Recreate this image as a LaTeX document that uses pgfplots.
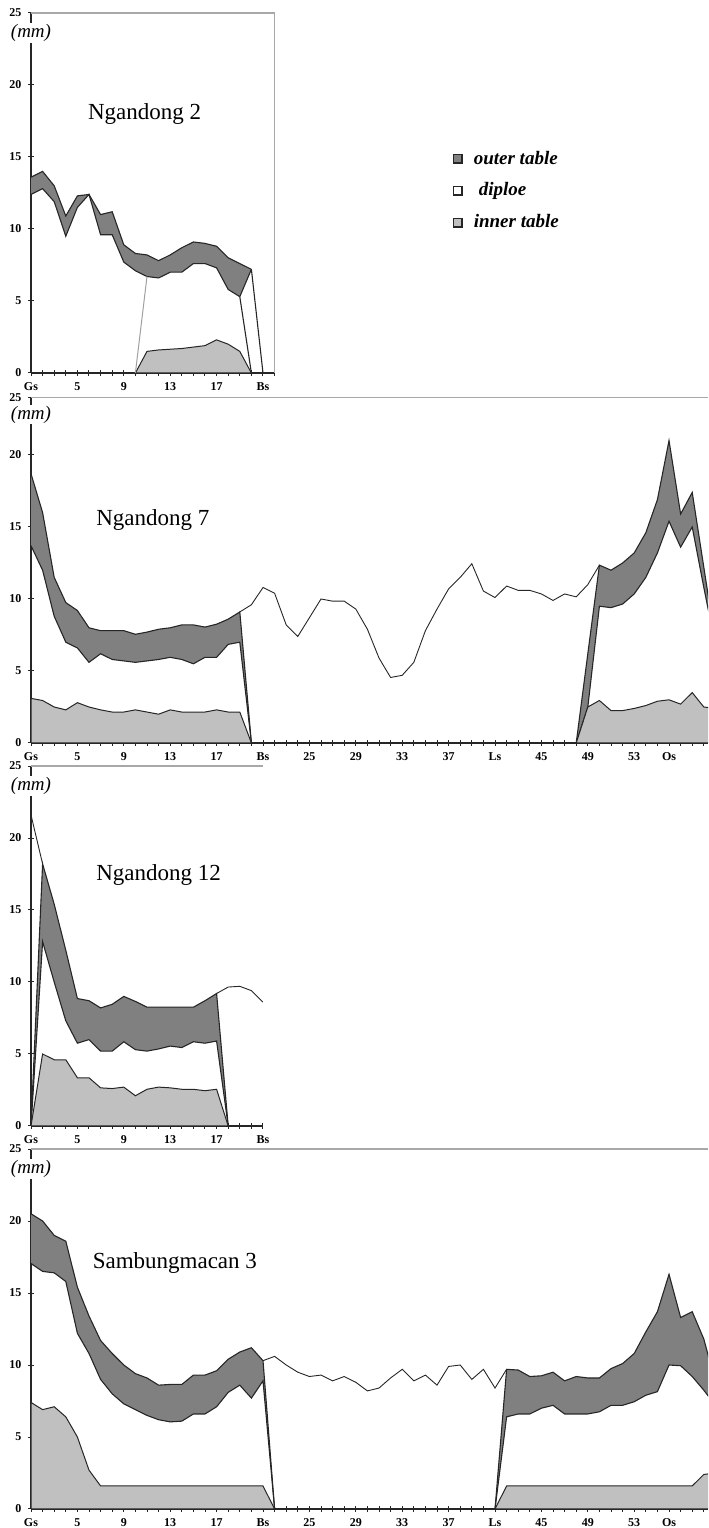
\documentclass[border=0pt]{standalone}
\usepackage{fontspec}
\setmainfont{Liberation Serif}
\usepackage{pgfplots}
\pgfplotsset{compat=1.18}
\usepgfplotslibrary{fillbetween}
\definecolor{outerc}{HTML}{808080}
\definecolor{innerc}{HTML}{C0C0C0}
\definecolor{linec}{HTML}{262626}
\definecolor{framec}{HTML}{A8A8A8}
\definecolor{ltline}{HTML}{A0A0A0}
\pgfplotsset{
  panel/.style={
    anchor=south west, scale only axis, set layers,
    xmin=1, ymin=0, ymax=25,
    axis x line*=bottom, axis y line*=left,
    axis line style={linec, line width=0.6pt},
    ytick={0,5,10,15,20,25},
    minor xtick={1,...,60},
    tick align=center, major tick length=2.6pt, minor tick length=2.6pt,
    tick style={linec, line width=0.5pt},
    tick label style={font=\bfseries\fontsize{6}{7}\selectfont},
    /pgf/number format/assume math mode=true,
    clip mode=individual,
  },
  band/.style={draw=linec, line width=0.55pt},
  tot/.style={draw=linec, line width=0.45pt},
  inn/.style={fill=innerc, draw=linec, line width=0.5pt},
}
\newcommand{\mmlabel}[1]{\node[fill=white, inner sep=0.6pt, font=\itshape\fontsize{9.5}{11}\selectfont] at (axis cs:1,#1) {(mm)};}
\newcommand{\ttl}{\fontsize{11.5}{13}\selectfont}
\begin{document}
\begin{tikzpicture}

% ---------------- Ngandong 2 ----------------
\begin{axis}[panel, at={(15.5pt,577.5pt)}, width=121.8pt, height=180pt, xmax=22,
  xtick={1,5,9,13,17,21}, xticklabels={Gs,5,9,13,17,Bs},
  legend style={draw=none, fill=none, at={(1.705,0.636)}, anchor=north west,
    font=\bfseries\itshape\fontsize{9.5}{11}\selectfont, row sep=5.5pt,
    nodes={inner sep=1.2pt}},
  legend cell align=left,
  legend image code/.code={\draw[#1, line width=0.7pt] (0pt,-2.1pt) rectangle (4.2pt,2.1pt); \path (8.8pt,0pt);}]
\addlegendimage{fill=outerc, draw=linec}
\addlegendimage{fill=white, draw=linec}
\addlegendimage{fill=innerc, draw=linec}
\legend{outer table, \hspace{2.5pt}diploe, inner table}
\addplot[band, name path=aU] coordinates {(1,13.6)(2,14.0)(3,13.0)(4,10.9)(5,12.3)(6,12.4)(7,11.0)(8,11.2)(9,8.9)(10,8.3)(11,8.2)(12,7.8)(13,8.2)(14,8.7)(15,9.1)(16,9.0)(17,8.8)(18,8.0)(19,7.6)(20,7.2)};
\addplot[band, name path=aL] coordinates {(1,12.4)(2,12.8)(3,11.9)(4,9.5)(5,11.5)(6,12.4)(7,9.6)(8,9.6)(9,7.7)(10,7.1)(11,6.7)(12,6.6)(13,7.0)(14,7.0)(15,7.6)(16,7.6)(17,7.3)(18,5.8)(19,5.3)(20,7.2)};
\addplot[fill=outerc] fill between[of=aU and aL];
\addplot[inn] coordinates {(10,0)(11,1.5)(12,1.6)(13,1.65)(14,1.7)(15,1.8)(16,1.9)(17,2.3)(18,2.0)(19,1.5)(20,0)} \closedcycle;
\addplot[draw=ltline, line width=0.5pt] coordinates {(10,0)(11,6.7)};
\addplot[band] coordinates {(19,5.3)(20,0)};
\addplot[band] coordinates {(20,7.2)(21,0)};
\draw[framec, line width=0.6pt] (rel axis cs:0,1) -- (rel axis cs:1,1) -- (rel axis cs:1,0);
\mmlabel{23.6}
\node[font=\ttl] at (axis cs:10.8,18) {Ngandong 2};
\end{axis}

% ---------------- Ngandong 7 ----------------
\begin{axis}[panel, at={(15.5pt,392.5pt)}, width=338.5pt, height=172.8pt, xmax=59.36, ymax=24,
  ytick={0,5,10,15,20,24}, yticklabels={0,5,10,15,20,25},
  xtick={1,5,9,13,17,21,25,29,33,37,41,45,49,53,56},
  xticklabels={Gs,5,9,13,17,Bs,25,29,33,37,Ls,45,49,53,Os}]
\addplot[band, name path=bU] coordinates {(1,18.7)(2,16.0)(3,11.5)(4,9.75)(5,9.2)(6,8.0)(7,7.8)(8,7.8)(9,7.8)(10,7.55)(11,7.7)(12,7.9)(13,8.0)(14,8.2)(15,8.2)(16,8.05)(17,8.25)(18,8.6)(19,9.1)(20,0)};
\addplot[band, name path=bL] coordinates {(1,13.7)(2,12.0)(3,8.8)(4,7.0)(5,6.6)(6,5.6)(7,6.2)(8,5.8)(9,5.7)(10,5.6)(11,5.7)(12,5.8)(13,5.95)(14,5.8)(15,5.5)(16,5.95)(17,5.95)(18,6.85)(19,7.0)(20,0)};
\addplot[fill=outerc] fill between[of=bU and bL];
\addplot[inn] coordinates {(1,3.1)(2,2.95)(3,2.5)(4,2.3)(5,2.8)(6,2.5)(7,2.3)(8,2.15)(9,2.15)(10,2.3)(11,2.15)(12,2.0)(13,2.3)(14,2.15)(15,2.15)(16,2.15)(17,2.3)(18,2.15)(19,2.15)(20,0)} \closedcycle;
\addplot[tot] coordinates {(19,9.1)(20,9.6)(21,10.8)(22,10.4)(23,8.2)(24,7.4)(25,8.7)(26,10.0)(27,9.85)(28,9.85)(29,9.3)(30,7.9)(31,5.9)(32,4.55)(33,4.7)(34,5.6)(35,7.8)(36,9.3)(37,10.7)(38,11.5)(39,12.45)(40,10.55)(41,10.1)(42,10.9)(43,10.6)(44,10.6)(45,10.35)(46,9.9)(47,10.35)(48,10.15)(49,11.0)(50,12.35)};
\addplot[band, name path=cU] coordinates {(48,0)(49,6.2)(50,12.35)(51,12.0)(52,12.5)(53,13.2)(54,14.6)(55,16.9)(56,21.0)(57,15.9)(58,17.4)(59,12.2)(60,7.0)};
\addplot[band, name path=cL] coordinates {(48,0)(49,2.5)(50,9.5)(51,9.4)(52,9.65)(53,10.35)(54,11.5)(55,13.2)(56,15.4)(57,13.6)(58,15.0)(59,10.8)(60,6.8)};
\addplot[fill=outerc] fill between[of=cU and cL];
\addplot[inn] coordinates {(48,0)(49,2.5)(50,2.95)(51,2.25)(52,2.25)(53,2.4)(54,2.6)(55,2.9)(56,3.0)(57,2.7)(58,3.5)(59,2.5)(60,2.4)} \closedcycle;
\draw[framec, line width=0.6pt] (rel axis cs:0,1) -- (rel axis cs:1,1);
\mmlabel{22.8}
\node[font=\ttl] at (axis cs:11.5,15.5) {Ngandong 7};
\end{axis}

% ---------------- Ngandong 12 ----------------
\begin{axis}[panel, at={(15.5pt,201pt)}, width=116pt, height=180pt, xmax=21,
  xtick={1,5,9,13,17,21}, xticklabels={Gs,5,9,13,17,Bs}]
\addplot[band, name path=dU] coordinates {(1,0)(2,18.2)(3,15.4)(4,12.2)(5,8.85)(6,8.7)(7,8.2)(8,8.45)(9,9.0)(10,8.65)(11,8.25)(12,8.25)(13,8.25)(14,8.25)(15,8.25)(16,8.7)(17,9.2)(18,0)};
\addplot[band, name path=dL] coordinates {(1,0)(2,12.8)(3,10.0)(4,7.3)(5,5.75)(6,6.0)(7,5.2)(8,5.2)(9,5.85)(10,5.3)(11,5.2)(12,5.35)(13,5.55)(14,5.45)(15,5.85)(16,5.75)(17,5.9)(18,0)};
\addplot[fill=outerc] fill between[of=dU and dL];
\addplot[inn] coordinates {(1,0)(2,5.0)(3,4.6)(4,4.6)(5,3.35)(6,3.35)(7,2.65)(8,2.6)(9,2.7)(10,2.1)(11,2.55)(12,2.7)(13,2.65)(14,2.55)(15,2.55)(16,2.45)(17,2.55)(18,0)} \closedcycle;
\addplot[tot] coordinates {(1,21.6)(2,18.2)};
\addplot[tot] coordinates {(17,9.2)(18,9.65)(19,9.7)(20,9.4)(21,8.6)};
\draw[framec, line width=0.6pt] (rel axis cs:0,1) -- (rel axis cs:1,1);
\mmlabel{23.6}
\node[font=\ttl] at (axis cs:12,17.4) {Ngandong 12};
\end{axis}

% ---------------- Sambungmacan 3 ----------------
\begin{axis}[panel, at={(15.5pt,9.5pt)}, width=338.5pt, height=180pt, xmax=59.36,
  xtick={1,5,9,13,17,21,25,29,33,37,41,45,49,53,56},
  xticklabels={Gs,5,9,13,17,Bs,25,29,33,37,Ls,45,49,53,Os}]
\addplot[band, name path=eU] coordinates {(1,20.5)(2,20.0)(3,19.0)(4,18.6)(5,15.4)(6,13.4)(7,11.7)(8,10.8)(9,10.0)(10,9.4)(11,9.1)(12,8.6)(13,8.65)(14,8.65)(15,9.3)(16,9.3)(17,9.6)(18,10.4)(19,10.9)(20,11.2)(21,10.3)(22,0)};
\addplot[band, name path=eL] coordinates {(1,17.05)(2,16.5)(3,16.4)(4,15.8)(5,12.2)(6,10.8)(7,9.0)(8,8.0)(9,7.3)(10,6.9)(11,6.5)(12,6.2)(13,6.05)(14,6.1)(15,6.6)(16,6.6)(17,7.1)(18,8.1)(19,8.6)(20,7.7)(21,8.9)(22,0)};
\addplot[fill=outerc] fill between[of=eU and eL];
\addplot[inn] coordinates {(1,7.4)(2,6.9)(3,7.1)(4,6.4)(5,5.0)(6,2.7)(7,1.6)(8,1.6)(9,1.6)(10,1.6)(11,1.6)(12,1.6)(13,1.6)(14,1.6)(15,1.6)(16,1.6)(17,1.6)(18,1.6)(19,1.6)(20,1.6)(21,1.6)(22,0)} \closedcycle;
\addplot[tot] coordinates {(21,10.3)(22,10.6)(23,10.0)(24,9.5)(25,9.2)(26,9.3)(27,8.9)(28,9.2)(29,8.8)(30,8.2)(31,8.4)(32,9.1)(33,9.7)(34,8.9)(35,9.3)(36,8.6)(37,9.9)(38,10.0)(39,9.0)(40,9.7)(41,8.4)(42,9.7)};
\addplot[band, name path=fU] coordinates {(41,0)(42,9.7)(43,9.65)(44,9.2)(45,9.25)(46,9.5)(47,8.9)(48,9.2)(49,9.1)(50,9.1)(51,9.75)(52,10.1)(53,10.8)(54,12.3)(55,13.7)(56,16.3)(57,13.3)(58,13.7)(59,11.8)(60,8.8)};
\addplot[band, name path=fL] coordinates {(41,0)(42,6.4)(43,6.6)(44,6.6)(45,7.0)(46,7.2)(47,6.6)(48,6.6)(49,6.6)(50,6.75)(51,7.2)(52,7.2)(53,7.45)(54,7.9)(55,8.15)(56,10.0)(57,9.95)(58,9.2)(59,8.25)(60,7.2)};
\addplot[fill=outerc] fill between[of=fU and fL];
\addplot[inn] coordinates {(41,0)(42,1.6)(43,1.6)(44,1.6)(45,1.6)(46,1.6)(47,1.6)(48,1.6)(49,1.6)(50,1.6)(51,1.6)(52,1.6)(53,1.6)(54,1.6)(55,1.6)(56,1.6)(57,1.6)(58,1.6)(59,2.4)(60,2.5)} \closedcycle;
\draw[framec, line width=0.6pt] (rel axis cs:0,1) -- (rel axis cs:1,1);
\mmlabel{23.6}
\node[font=\ttl] at (axis cs:13.4,17.1) {Sambungmacan 3};
\end{axis}
\pgfresetboundingbox
\path (0,0) rectangle (354pt,764pt);
\end{tikzpicture}
\end{document}
